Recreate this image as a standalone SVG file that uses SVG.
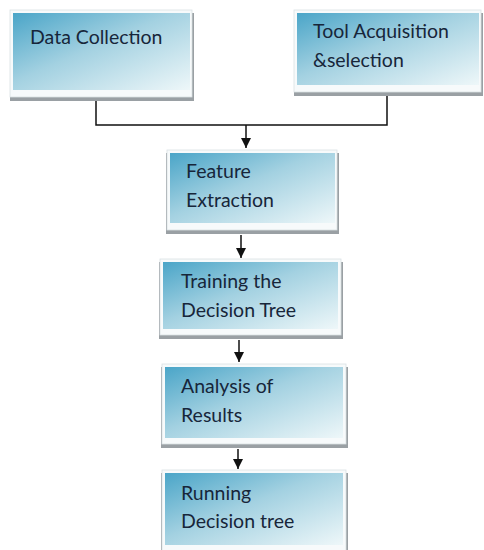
<svg xmlns="http://www.w3.org/2000/svg" width="484" height="550" viewBox="0 0 484 550">
  <defs>
    <linearGradient id="fill" x1="0" y1="0" x2="1" y2="1">
      <stop offset="0" stop-color="#4aa5c8"/>
      <stop offset="0.45" stop-color="#a3d1e1"/>
      <stop offset="1" stop-color="#eef7f9"/>
    </linearGradient>
    <marker id="arrow" viewBox="0 0 10 10" refX="10" refY="5" markerWidth="11" markerHeight="10" markerUnits="userSpaceOnUse" orient="auto">
      <path d="M0,0 L10,5 L0,10 z" fill="#111"/>
    </marker>
    <style>
      .shadow { fill: #9aa0a4; }
      .frame { fill: #f7fafb; stroke: #d9e0e4; stroke-width: 0.8; }
      .inner { fill: url(#fill); }
      .label { font-family: Lato, "Liberation Sans", sans-serif; font-size: 19.5px; fill: #17263a; }
      .wire { fill: none; stroke: #111; stroke-width: 1.5; }
    </style>
  </defs>

  <rect width="484" height="550" fill="#ffffff"/>

  <!-- process boxes: white frame, gradient panel, grey drop edge -->
  <g id="data-collection">
    <rect class="shadow" x="10" y="13" width="184" height="88"/>
    <rect class="frame" x="10" y="10" width="182" height="87"/>
    <rect class="inner" x="13" y="13" width="177" height="77"/>
    <text class="label" x="30" y="44">Data Collection</text>
  </g>

  <g id="tool-acquisition">
    <rect class="shadow" x="294" y="13" width="189" height="83"/>
    <rect class="frame" x="294" y="10" width="187" height="82"/>
    <rect class="inner" x="297" y="13" width="182" height="72"/>
    <text class="label" x="313" y="38">Tool Acquisition</text>
    <text class="label" x="313" y="67">&amp;selection</text>
  </g>

  <g id="feature-extraction">
    <rect class="shadow" x="166" y="153" width="173" height="81"/>
    <rect class="frame" x="167" y="150" width="170" height="80"/>
    <rect class="inner" x="170" y="153" width="165" height="70"/>
    <text class="label" x="186" y="178">Feature</text>
    <text class="label" x="186" y="207">Extraction</text>
  </g>

  <g id="training">
    <rect class="shadow" x="159" y="262" width="184" height="77"/>
    <rect class="frame" x="160" y="259" width="181" height="76"/>
    <rect class="inner" x="163" y="262" width="175" height="67"/>
    <text class="label" x="181" y="288">Training the</text>
    <text class="label" x="181" y="317">Decision Tree</text>
  </g>

  <g id="analysis">
    <rect class="shadow" x="161" y="367" width="187" height="81"/>
    <rect class="frame" x="162" y="364" width="184" height="80"/>
    <rect class="inner" x="165" y="367" width="178" height="71"/>
    <text class="label" x="181" y="393">Analysis of</text>
    <text class="label" x="181" y="422">Results</text>
  </g>

  <g id="running">
    <rect class="shadow" x="161" y="473" width="187" height="80"/>
    <rect class="frame" x="162" y="470" width="184" height="82"/>
    <rect class="inner" x="165" y="473" width="178" height="72"/>
    <text class="label" x="181" y="500">Running</text>
    <text class="label" x="181" y="528">Decision tree</text>
  </g>

  <!-- connectors -->
  <g id="connectors">
    <polyline class="wire" points="96,101 96,125 387,125 387,96"/>
    <line class="wire" x1="246" y1="125" x2="246" y2="148" marker-end="url(#arrow)"/>
    <line class="wire" x1="241" y1="235" x2="241" y2="258" marker-end="url(#arrow)"/>
    <line class="wire" x1="239" y1="340" x2="239" y2="362" marker-end="url(#arrow)"/>
    <line class="wire" x1="238" y1="449" x2="238" y2="469" marker-end="url(#arrow)"/>
  </g>
</svg>
